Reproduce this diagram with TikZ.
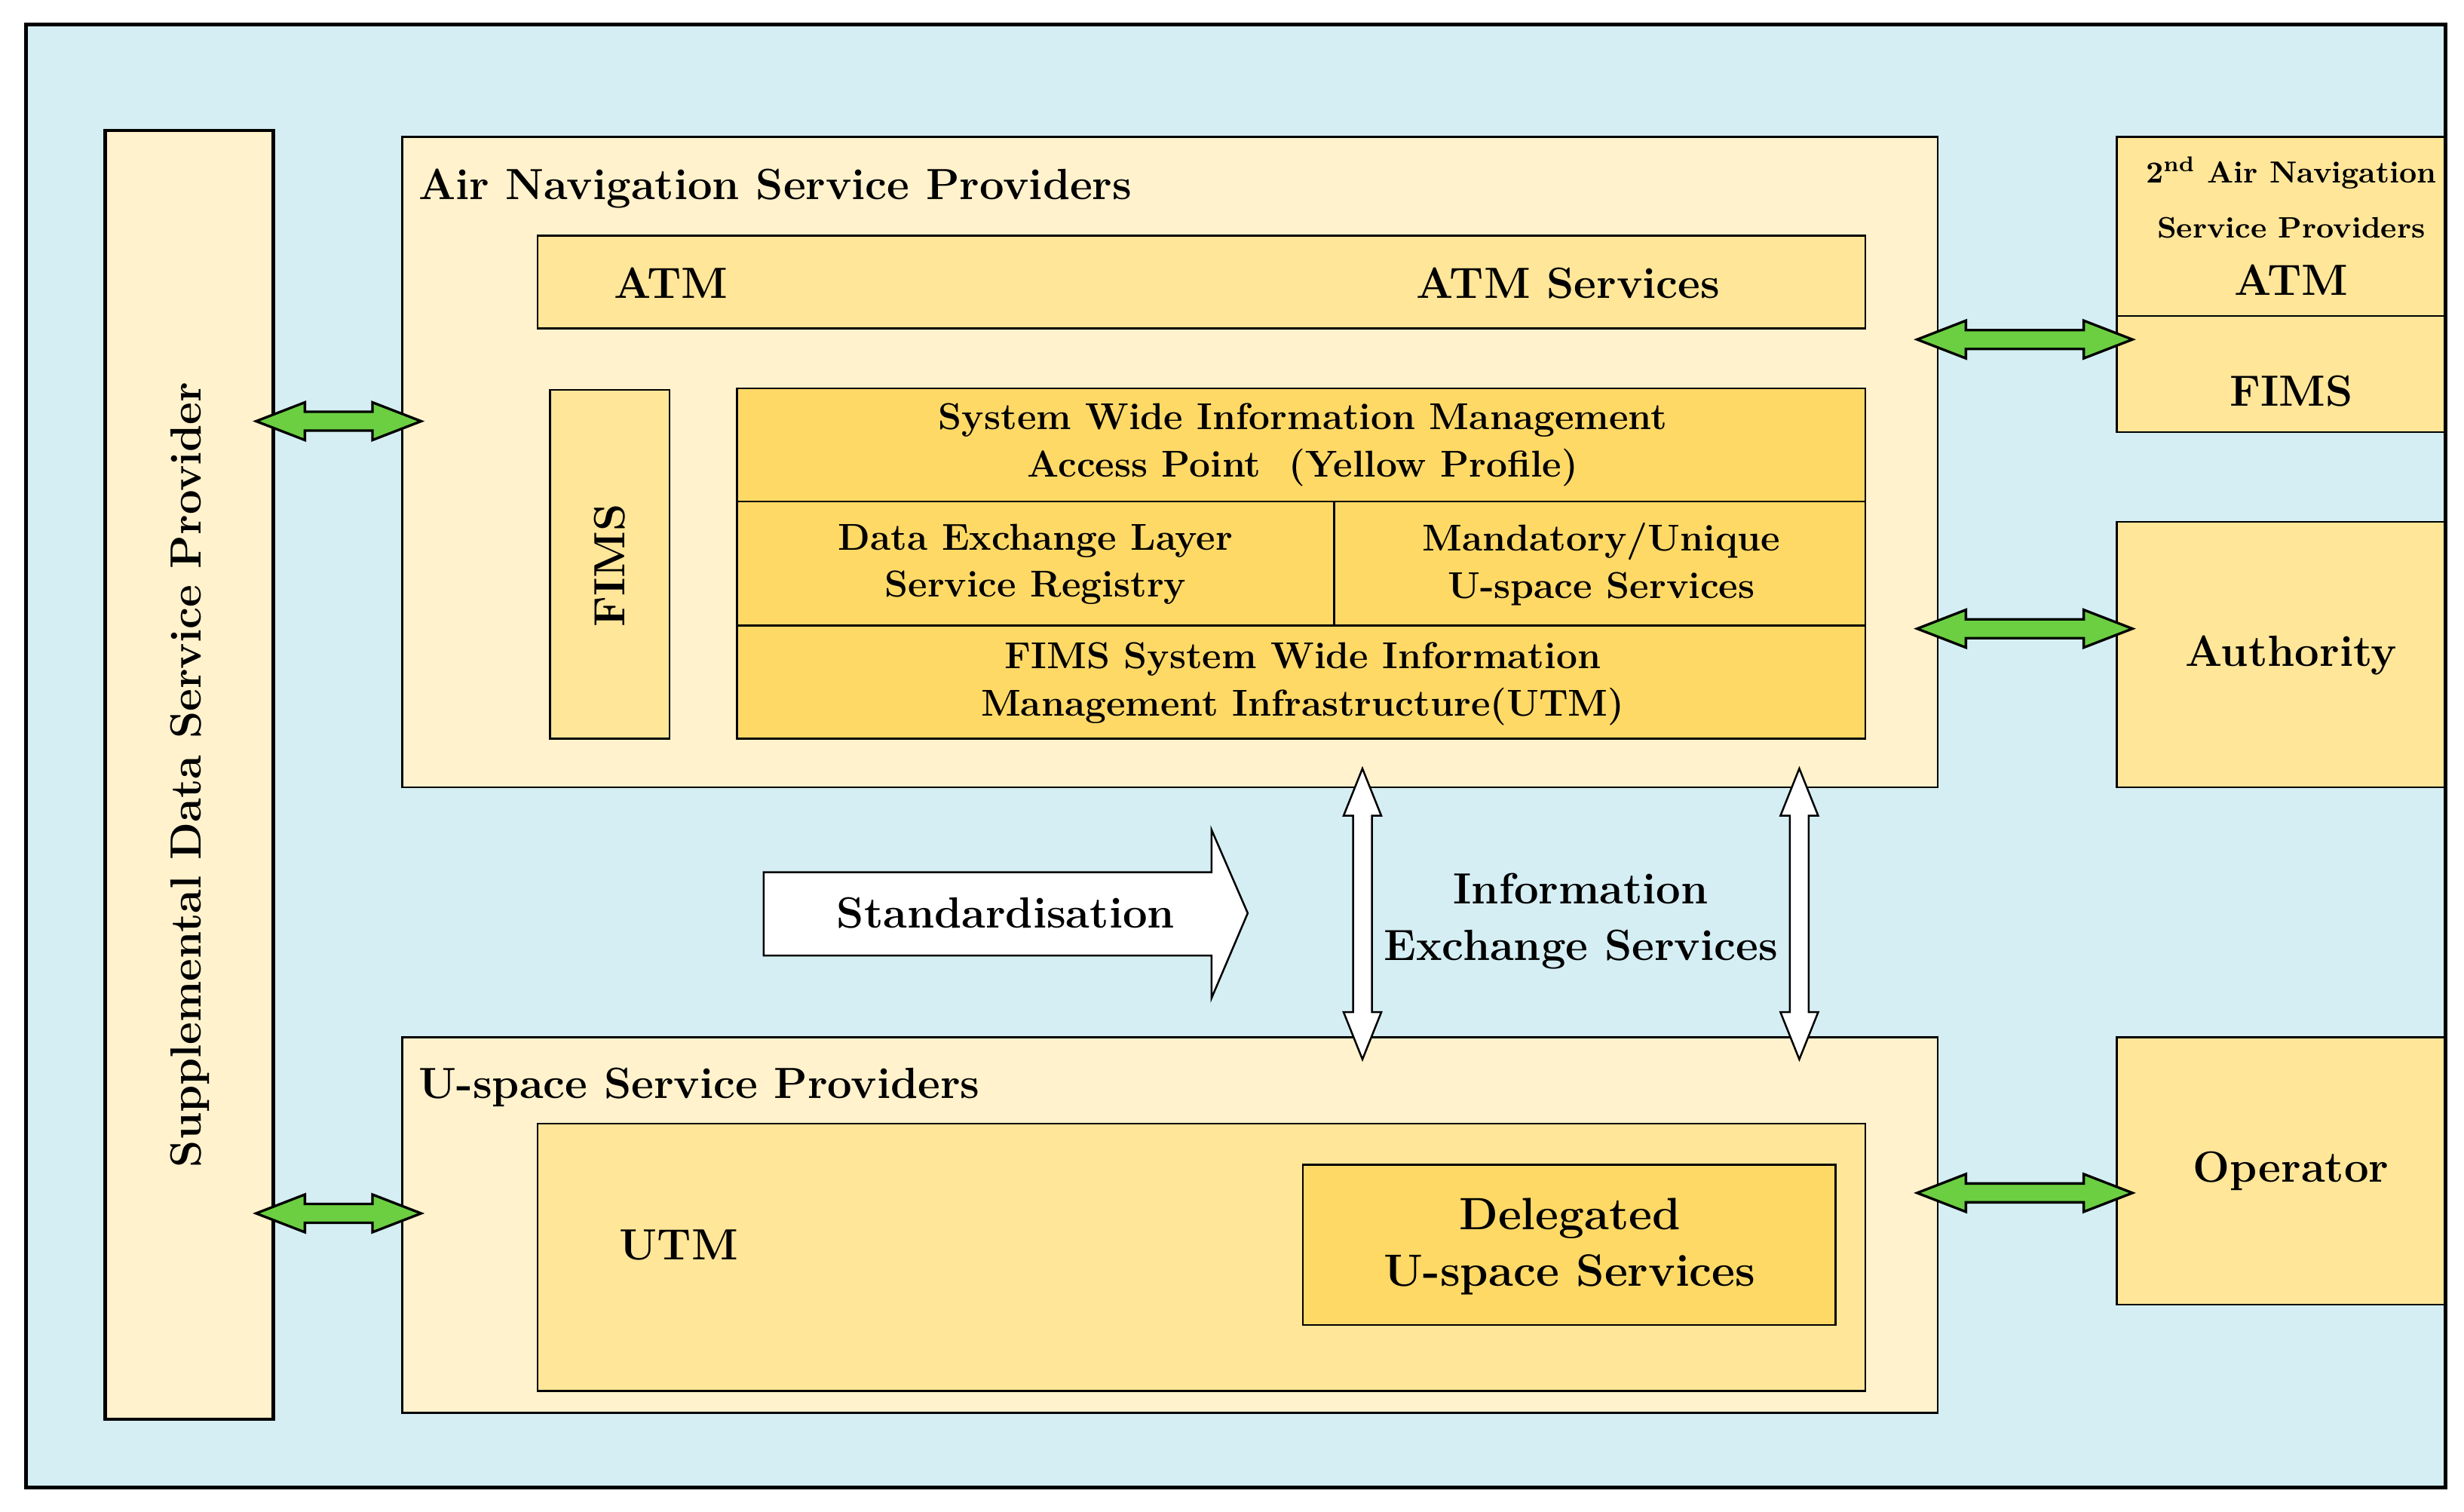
\documentclass[tikz,border=0pt]{standalone}
\usetikzlibrary{fit}
\definecolor{bgblue}{RGB}{213,238,243}
\definecolor{cream}{RGB}{255,242,204}
\definecolor{ylw}{RGB}{255,230,153}
\definecolor{ylwd}{RGB}{255,217,102}
\definecolor{grn}{RGB}{108,207,66}
\newcommand{\hfat}[3]{%
  \draw[fat] (#1,#3) -- (#1+31,#3-12) -- (#1+31,#3-6) -- (#2-31,#3-6) -- (#2-31,#3-12) -- (#2,#3) -- (#2-31,#3+12) -- (#2-31,#3+6) -- (#1+31,#3+6) -- (#1+31,#3+12) -- cycle;}
\newcommand{\vfat}[3]{%
  \draw[wfat] (#3,#1) -- (#3+12,#1+30) -- (#3+6,#1+30) -- (#3+6,#2-30) -- (#3+12,#2-30) -- (#3,#2) -- (#3-12,#2-30) -- (#3-6,#2-30) -- (#3-6,#1+30) -- (#3-12,#1+30) -- cycle;}
\begin{document}
\begin{tikzpicture}[x=0.5pt,y=-0.5pt,
  box/.style={draw=black, line width=0.6pt, inner sep=0pt},
  txt/.style={font=\bfseries\fontsize{13.9}{18}\selectfont, inner sep=0pt, align=center},
  sml/.style={font=\bfseries\fontsize{11.9}{15}\selectfont, inner sep=0pt, align=center},
  tiny/.style={font=\bfseries\fontsize{9.4}{11}\selectfont, inner sep=0pt, align=center},
  fat/.style={draw=black, line width=0.8pt, fill=grn, line join=miter},
  wfat/.style={draw=black, line width=0.6pt, fill=white, line join=miter}]
\useasboundingbox (0,0) rectangle (1568,962);
% frame
\node[inner sep=0pt, fill=bgblue, fit={(17,16) (1556,946)}] (frame) {};
% supplemental
\node[box, line width=1.1pt, fill=cream, fit={(67,83) (174,903)}] (supp) {};
\node[txt, rotate=90] (supptxt) at (121,493) {Supplemental Data Service Provider};
% ANSP
\node[box, fill=cream, fit={(256,87) (1233,501)}] (ansp) {};
\node[txt, anchor=west] (ansptxt) at (266,120) {Air Navigation Service Providers};
\node[box, fill=ylw, fit={(342,150) (1187,209)}] (atm) {};
\node[txt] (atmtxt) at (427,180) {ATM};
\node[txt] (atmsrv) at (998,180) {ATM Services};
\node[box, fill=ylw, fit={(350,248) (426,470)}] (fims) {};
\node[txt, rotate=90] (fimstxt) at (388,360) {FIMS};
\node[box, fill=ylwd, fit={(469,247) (1187,319)}] (swim) {};
\node[box, fill=ylwd, fit={(469,319) (849,398)}] (del) {};
\node[box, fill=ylwd, fit={(849,319) (1187,398)}] (mand) {};
\node[box, fill=ylwd, fit={(469,398) (1187,470)}] (infra) {};
\node[sml] (swimtxt) at (829,283) {System Wide Information Management\\Access Point\ \ (Yellow Profile)};
\node[sml] (deltxt) at (659,359) {Data Exchange Layer\\Service Registry};
\node[sml] (mandtxt) at (1019,359) {Mandatory/Unique\\U-space Services};
\node[sml] (infratxt) at (829,435) {FIMS System Wide Information\\Management Infrastructure(UTM)};
% USSP
\node[box, fill=cream, fit={(256,660) (1233,899)}] (ussp) {};
\node[txt, anchor=west] (ussptxt) at (266,692) {U-space Service Providers};
\node[box, fill=ylw, fit={(342,715) (1187,885)}] (utm) {};
\node[txt] (utmtxt) at (432,792) {UTM};
\node[box, fill=ylwd, fit={(829,741) (1168,843)}] (dlg) {};
\node[txt, font=\bfseries\fontsize{14.4}{18}\selectfont] (dlgtxt) at (999,793) {Delegated\\U-space Services};
% right boxes
\node[box, fill=ylw, fit={(1347,87) (1556,201)}] (ansp2) {};
\node[box, fill=ylw, fit={(1347,201) (1556,275)}] (fims2) {};
\node[tiny, font=\bfseries\fontsize{9.7}{11}\selectfont] (a2l1) at (1458,110) {2\textsuperscript{nd} Air Navigation};
\node[tiny] (a2l2) at (1458,145) {Service Providers};
\node[txt] (a2atm) at (1458,178) {ATM};
\node[txt] (a2fims) at (1458,249) {FIMS};
\node[box, fill=ylw, fit={(1347,332) (1556,501)}] (auth) {};
\node[txt] (authtxt) at (1458,417) {Authority};
\node[box, fill=ylw, fit={(1347,660) (1556,830)}] (oper) {};
\node[txt] (opertxt) at (1458,745) {Operator};
% arrows
\hfat{163}{268}{268}
\hfat{163}{268}{772}
\hfat{1220}{1357}{216}
\hfat{1220}{1357}{400}
\hfat{1220}{1357}{759}
\vfat{489}{674}{867}
\vfat{489}{674}{1145}
\draw[wfat] (486,555) -- (771,555) -- (771,528) -- (794,581) -- (771,635) -- (771,608) -- (486,608) -- cycle;
\node[txt] (stdtxt) at (640,581) {Standardisation};
\node[txt] (ies) at (1006,586) {Information\\Exchange Services};
% frame border
\draw[line width=1.2pt] (frame.north west) rectangle (frame.south east);
\end{tikzpicture}
\end{document}
